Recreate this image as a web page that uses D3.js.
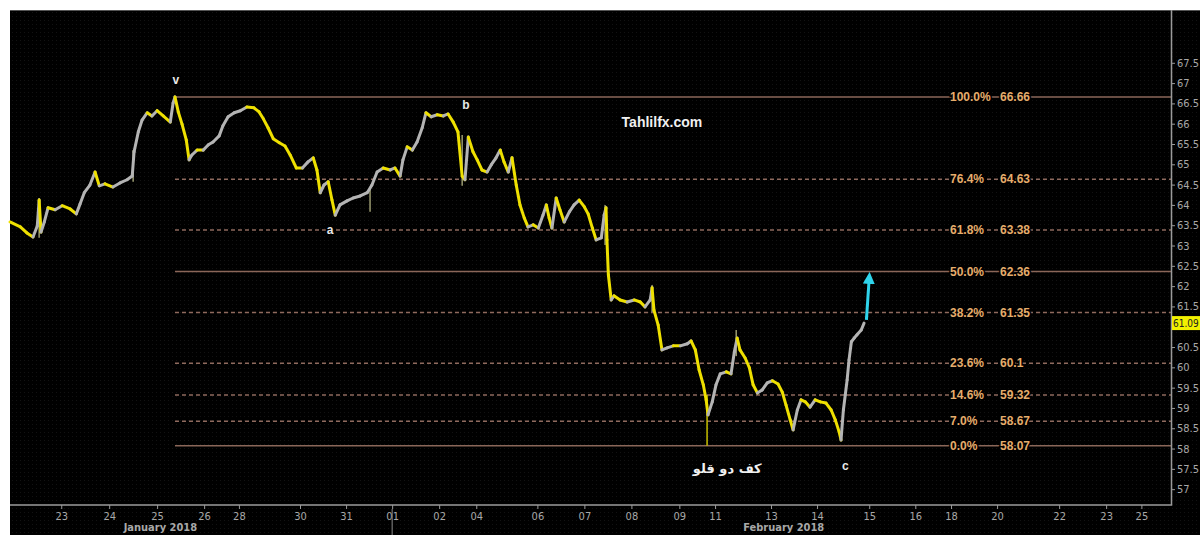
<!DOCTYPE html>
<html>
<head>
<meta charset="utf-8">
<script src="https://cdn.jsdelivr.net/npm/d3@7"></script>
<style>
  html, body { margin: 0; padding: 0; background: #fff; }
  #chart-output { width: 1200px; height: 535px; }
</style>
</head>
<body>
<div id="chart-output"></div>
<script>
// position along the session axis (1 = one trading day, 0 = Jan 23)
const pricePos = [
  -1.13, -0.91, -0.77, -0.64, -0.55, -0.51, -0.47, -0.40, -0.32, -0.17, -0.02, 0.15, 0.28, 0.36, 0.45,
  0.57, 0.68, 0.77, 0.89, 1.06, 1.21, 1.36, 1.47, 1.51, 1.60, 1.68, 1.79, 1.89, 2.00, 2.13,
  2.28, 2.34, 2.38, 2.45, 2.53, 2.62, 2.68, 2.74, 2.85, 2.98, 3.09, 3.19, 3.32, 3.40, 3.51,
  3.64, 3.77, 3.91, 4.06, 4.17, 4.26, 4.36, 4.47, 4.60, 4.72, 4.83, 4.96, 5.09, 5.21, 5.32,
  5.40, 5.47, 5.55, 5.64, 5.72, 5.79, 5.89, 6.04, 6.17, 6.32, 6.47, 6.57, 6.68, 6.81, 6.96,
  7.06, 7.17, 7.23, 7.32, 7.43, 7.53, 7.64, 7.72, 7.83, 7.96, 8.09, 8.19, 8.30, 8.40, 8.49,
  8.55, 8.62, 8.72, 8.81, 8.91, 9.02, 9.11, 9.21, 9.30, 9.38, 9.47, 9.55, 9.64, 9.72, 9.81,
  9.89, 10.00, 10.11, 10.21, 10.28, 10.34, 10.40, 10.49, 10.57, 10.66, 10.77, 10.87, 10.98, 11.09, 11.17,
  11.26, 11.34, 11.45, 11.51, 11.55, 11.57, 11.60, 11.66, 11.72, 11.85, 12.00, 12.15, 12.28, 12.38, 12.49,
  12.53, 12.57, 12.66, 12.74, 12.85, 12.98, 13.13, 13.28, 13.36, 13.45, 13.53, 13.62, 13.68, 13.72, 13.81,
  13.89, 13.98, 14.11, 14.21, 14.28, 14.34, 14.40, 14.51, 14.60, 14.68, 14.77, 14.87, 14.98, 15.09, 15.21,
  15.30, 15.38, 15.47, 15.53, 15.62, 15.70, 15.79, 15.89, 16.00, 16.11, 16.23, 16.34, 16.43, 16.51, 16.55,
  16.60, 16.64, 16.68, 16.72, 16.77, 16.83, 16.89, 16.98, 17.04
];
const priceVal = [
  63.58, 63.46, 63.31, 63.21, 63.48, 64.12, 63.33, 63.58, 63.93, 63.88, 63.98, 63.90, 63.78, 64.02, 64.30,
  64.49, 64.81, 64.47, 64.52, 64.44, 64.54, 64.62, 64.71, 65.31, 65.80, 66.09, 66.27, 66.19, 66.32, 66.19,
  66.04, 66.51, 66.66, 66.29, 65.99, 65.60, 65.11, 65.23, 65.35, 65.35, 65.48, 65.55, 65.70, 65.95, 66.17,
  66.27, 66.32, 66.41, 66.39, 66.29, 66.12, 65.90, 65.63, 65.53, 65.45, 65.23, 64.91, 64.91, 65.06, 65.16,
  64.86, 64.30, 64.49, 64.57, 64.12, 63.75, 64.00, 64.10, 64.17, 64.22, 64.30, 64.49, 64.81, 64.91, 64.86,
  64.91, 64.71, 65.11, 65.43, 65.35, 65.55, 65.90, 66.27, 66.17, 66.22, 66.19, 66.24, 66.04, 65.80, 64.71,
  64.62, 65.67, 65.31, 65.11, 64.86, 64.81, 64.99, 65.16, 65.35, 65.06, 64.81, 65.16, 64.49, 64.00, 63.68,
  63.46, 63.51, 63.43, 63.75, 64.00, 63.68, 63.43, 64.17, 63.88, 63.58, 63.83, 64.00, 64.12, 63.95, 63.78,
  63.43, 63.14, 63.19, 63.75, 63.93, 63.14, 62.28, 61.66, 61.76, 61.66, 61.61, 61.66, 61.61, 61.49, 61.66,
  61.96, 61.41, 61.04, 60.43, 60.48, 60.53, 60.53, 60.58, 60.65, 60.43, 59.94, 59.57, 59.20, 58.83, 59.15,
  59.57, 59.84, 59.89, 59.84, 60.38, 60.72, 60.43, 60.23, 59.99, 59.57, 59.37, 59.44, 59.62, 59.67, 59.59,
  59.39, 59.07, 58.70, 58.46, 58.95, 59.20, 59.15, 59.02, 59.20, 59.15, 59.12, 58.95, 58.70, 58.41, 58.21,
  58.95, 59.32, 59.69, 60.18, 60.63, 60.72, 60.80, 60.92, 61.09
];

// long high-low wicks
const wickPos = [-0.51, 1.49, 6.53, 8.49, 11.53, 12.53, 13.70, 14.32];
const wickHigh = [64.17, 65.35, 64.42, 65.72, 64.00, 62.03, 59.32, 60.92];
const wickLow = [63.19, 64.57, 63.83, 64.47, 63.01, 61.36, 58.07, 60.28];

// fibonacci retracement from v (66.66) to c low (58.07)
const fibPct = ["100.0%", "76.4%", "61.8%", "50.0%", "38.2%", "23.6%", "14.6%", "7.0%", "0.0%"];
const fibVal = [66.66, 64.63, 63.38, 62.36, 61.35, 60.1, 59.32, 58.67, 58.07];
const fibSolid = [true, false, false, true, false, false, false, false, true];
const fibStart = 2.38;

// axis ticks
const dayTickPos = [-0.04, 0.98, 2.00, 3.00, 3.74, 5.04, 6.02, 7.00, 8.00, 8.79, 10.09, 11.09,
  12.09, 13.11, 13.87, 15.06, 16.04, 17.15, 18.13, 18.89, 19.87, 21.19, 22.19, 22.94];
const dayTickLabel = ["23", "24", "25", "26", "28", "30", "31", "01", "02", "04", "06", "07",
  "08", "09", "11", "13", "14", "15", "16", "18", "20", "22", "23", "25"];
const monthLabel = ["January 2018", "February 2018"];
const monthPos = [2.07, 15.33];
const monthSplit = 7.0;
const priceTicks = [57, 57.5, 58, 58.5, 59, 59.5, 60, 60.5, 61, 61.5, 62, 62.5,
  63, 63.5, 64, 64.5, 65, 65.5, 66, 66.5, 67, 67.5];
const lastPrice = 61.09;

// wave labels
const waveText = ["v", "a", "b", "c"];
const wavePos = [2.40, 5.68, 8.57, 16.64];
const waveVal = [67.08, 63.38, 66.46, 57.57];

const arrowFrom = [17.09, 61.17];
const arrowTo = [17.15, 62.35];

function draw_chart(dom_id) {
  const width = 1200;
  const height = 535;
  const left = 10, top = 10, right = 1171, bottom = 505;

  const svg = d3.select("#" + dom_id)
    .append("svg")
    .attr("width", width)
    .attr("height", height);

  // background
  svg.append("rect").attr("width", width).attr("height", height).attr("fill", "#fff");
  const defs = svg.append("defs");
  const pat = defs.append("pattern")
    .attr("id", "dots").attr("width", 4).attr("height", 4)
    .attr("patternUnits", "userSpaceOnUse");
  pat.append("rect").attr("width", 4).attr("height", 4).attr("fill", "#000");
  pat.append("rect").attr("width", 1).attr("height", 1).attr("fill", "#121212");
  svg.append("rect")
    .attr("x", left).attr("y", top)
    .attr("width", width - left).attr("height", height - top)
    .attr("fill", "url(#dots)");
  svg.append("line")
    .attr("x1", left).attr("x2", width).attr("y1", top + 0.5).attr("y2", top + 0.5)
    .attr("stroke", "#555");

  const x = d3.scaleLinear().domain([-1.13, 23.57]).range([left, right]);
  const y = d3.scaleLinear().domain([56.61, 68.80]).range([bottom, top]);

  const font = "'DejaVu Sans Condensed', 'Liberation Sans Narrow', 'DejaVu Sans', sans-serif";

  // fib levels
  const fib = svg.append("g");
  fibVal.forEach((v, i) => {
    fib.append("line")
      .attr("x1", x(fibStart)).attr("x2", right)
      .attr("y1", y(v)).attr("y2", y(v))
      .attr("stroke", fibSolid[i] ? "#8a6658" : "#8f6a5e")
      .attr("stroke-width", 1.5)
      .attr("stroke-dasharray", fibSolid[i] ? null : "4,3");
  });

  // wicks
  svg.append("g")
    .selectAll("line")
    .data(wickPos)
    .enter()
    .append("line")
    .attr("x1", d => x(d)).attr("x2", d => x(d))
    .attr("y1", (d, i) => y(wickHigh[i]))
    .attr("y2", (d, i) => y(wickLow[i]))
    .attr("stroke", (d, i) => i == 6 ? "#c8c000" : "#9a9a70")
    .attr("stroke-width", 1.5);

  // price segments: yellow falling, grey rising
  const segs = [];
  for (let i = 0; i < pricePos.length - 1; i++) {
    segs.push({
      x1: pricePos[i], y1: priceVal[i],
      x2: pricePos[i + 1], y2: priceVal[i + 1],
      up: priceVal[i + 1] > priceVal[i]
    });
  }
  svg.append("g")
    .selectAll("line")
    .data(segs)
    .enter()
    .append("line")
    .attr("x1", d => x(d.x1)).attr("y1", d => y(d.y1))
    .attr("x2", d => x(d.x2)).attr("y2", d => y(d.y2))
    .attr("stroke", d => d.up ? "#b4b4b4" : "#eee000")
    .attr("stroke-width", 3)
    .attr("stroke-linecap", "round");

  // fib labels over the lines
  fibVal.forEach((v, i) => {
    [fibPct[i], String(v)].forEach((t, j) => {
      fib.append("text")
        .attr("x", j == 0 ? 950 : 1000)
        .attr("y", y(v))
        .attr("dominant-baseline", "central")
        .attr("font-family", "'Liberation Sans', Arial, sans-serif")
        .attr("font-size", 12)
        .attr("font-weight", "bold")
        .attr("fill", "#e6ad6c")
        .attr("stroke", "#000")
        .attr("stroke-width", 3)
        .attr("paint-order", "stroke")
        .text(t);
    });
  });

  // arrow
  defs.append("marker")
    .attr("id", "head").attr("viewBox", "0 0 10 10")
    .attr("refX", 5).attr("refY", 5)
    .attr("markerWidth", 4).attr("markerHeight", 4)
    .attr("orient", "auto")
    .append("path").attr("d", "M0,0 L10,5 L0,10 z").attr("fill", "#2fd4ec");
  svg.append("line")
    .attr("x1", x(arrowFrom[0])).attr("y1", y(arrowFrom[1]))
    .attr("x2", x(arrowTo[0])).attr("y2", y(arrowTo[1]) + 6)
    .attr("stroke", "#2fd4ec").attr("stroke-width", 3)
    .attr("marker-end", "url(#head)");

  // wave labels
  svg.append("g")
    .selectAll("text")
    .data(waveText)
    .enter()
    .append("text")
    .attr("x", (d, i) => x(wavePos[i]))
    .attr("y", (d, i) => y(waveVal[i]))
    .attr("text-anchor", "middle")
    .attr("dominant-baseline", "central")
    .attr("font-family", "'Liberation Sans', Arial, sans-serif")
    .attr("font-size", 12)
    .attr("font-weight", "bold")
    .attr("fill", "#e8e8e8")
    .attr("stroke", "#000").attr("stroke-width", 3).attr("paint-order", "stroke")
    .text(d => d);

  svg.append("text")
    .attr("x", x(12.74)).attr("y", y(66.04))
    .attr("text-anchor", "middle").attr("dominant-baseline", "central")
    .attr("font-family", "'Liberation Sans', Arial, sans-serif")
    .attr("font-size", 14).attr("font-weight", "bold")
    .attr("fill", "#f0f0f0")
    .text("Tahlilfx.com");

  svg.append("text")
    .attr("x", x(14.13)).attr("y", y(57.52))
    .attr("text-anchor", "middle").attr("dominant-baseline", "central")
    .attr("direction", "rtl")
    .attr("font-family", "'DejaVu Sans', 'Noto Sans', sans-serif")
    .attr("font-size", 13).attr("font-weight", "bold")
    .attr("fill", "#f0f0f0")
    .text("کف دو قلو");

  // right price axis (the 61 label sits under the last price box)
  const yAxis = svg.append("g")
    .attr("transform", `translate(${right},0)`)
    .call(d3.axisRight(y).tickValues(priceTicks).tickSize(4)
      .tickFormat(d => Math.abs(d - lastPrice) < 0.2 ? "" : String(d)));
  yAxis.select(".domain").attr("stroke", "#9a9a9a").attr("stroke-width", 1.5)
    .attr("d", `M0.5,${top}V${bottom}H-${right - left}`);
  yAxis.selectAll(".tick line").attr("stroke", "#9a9a9a");
  yAxis.selectAll(".tick text")
    .attr("x", 6)
    .attr("fill", "#a8a8a8")
    .attr("font-family", font)
    .attr("font-size", 11);

  // last price box
  svg.append("rect")
    .attr("x", right + 1).attr("y", y(lastPrice) - 7)
    .attr("width", width - right).attr("height", 14)
    .attr("fill", "#f2f000");
  svg.append("text")
    .attr("x", right + 2).attr("y", y(lastPrice))
    .attr("dominant-baseline", "central")
    .attr("font-family", font).attr("font-size", 10)
    .attr("fill", "#222")
    .text(lastPrice.toFixed(2));

  // bottom date axis
  const xAxis = svg.append("g")
    .attr("transform", `translate(0,${bottom})`)
    .call(d3.axisBottom(x).tickValues(dayTickPos).tickSize(4)
      .tickFormat((d, i) => dayTickLabel[i]));
  xAxis.select(".domain").remove();
  xAxis.selectAll(".tick line").attr("stroke", "#9a9a9a");
  xAxis.selectAll(".tick text")
    .attr("y", 7)
    .attr("fill", "#a8a8a8")
    .attr("font-family", font)
    .attr("font-size", 11);

  svg.append("line")
    .attr("x1", x(monthSplit)).attr("x2", x(monthSplit))
    .attr("y1", bottom + 4).attr("y2", height)
    .attr("stroke", "#8a8a8a");

  svg.append("g")
    .selectAll("text")
    .data(monthLabel)
    .enter()
    .append("text")
    .attr("x", (d, i) => x(monthPos[i]))
    .attr("y", 531)
    .attr("text-anchor", "middle")
    .attr("font-family", font)
    .attr("font-size", 11)
    .attr("font-weight", "bold")
    .attr("fill", "#a8a8a8")
    .text(d => d);
}

draw_chart("chart-output");
</script>
</body>
</html>
